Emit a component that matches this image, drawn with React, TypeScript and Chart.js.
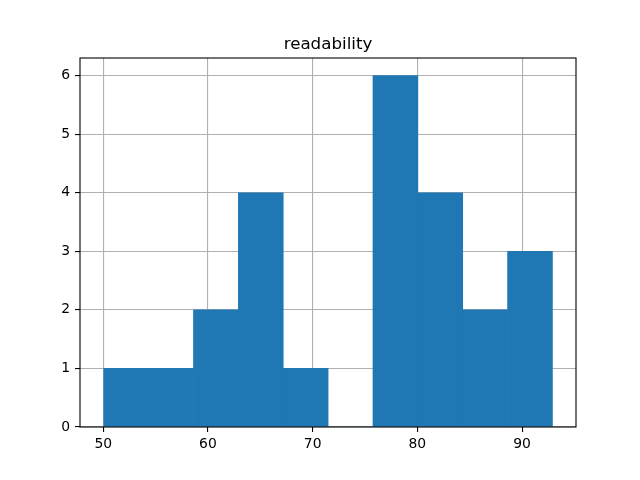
import React, { useEffect, useRef } from "react";
import { Chart, registerables } from "chart.js";

Chart.register(...registerables);

const chartTitle = "readability";
const binEdges = [50.05, 54.335, 58.62, 62.905, 67.19, 71.475, 75.76, 80.045, 84.33, 88.615, 92.9];
const binCounts = [1, 1, 2, 4, 1, 0, 6, 4, 2, 3];
const xTicks = [50, 60, 70, 80, 90];
const yTicks = [0, 1, 2, 3, 4, 5, 6];

const FONT = "'DejaVu Sans', sans-serif";

const boxPlugin = {
  id: "axesBox",
  afterDraw(chart: any) {
    const { ctx, chartArea } = chart;
    ctx.save();
    ctx.strokeStyle = "#000";
    ctx.lineWidth = 1.1;
    ctx.strokeRect(chartArea.left, chartArea.top, chartArea.right - chartArea.left, chartArea.bottom - chartArea.top);
    ctx.fillStyle = "#000";
    ctx.font = `16.7px ${FONT}`;
    ctx.textAlign = "center";
    ctx.textBaseline = "alphabetic";
    ctx.fillText(chartTitle, (chartArea.left + chartArea.right) / 2, chartArea.top - 9.5);
    ctx.restore();
  },
};

export default function App() {
  const ref = useRef<HTMLCanvasElement | null>(null);
  useEffect(() => {
    document.body.style.margin = "0";
    const points = binCounts.map((c, i) => ({ x: (binEdges[i] + binEdges[i + 1]) / 2, y: c }));
    const chart = new Chart(ref.current as HTMLCanvasElement, {
      type: "bar",
      data: {
        datasets: [
          {
            data: points as any,
            backgroundColor: "#1f77b4",
            borderWidth: 0,
            barPercentage: 1,
            categoryPercentage: 1,
          },
        ],
      },
      plugins: [boxPlugin],
      options: {
        responsive: false,
        animation: false,
        layout: { padding: { top: 58, right: 64, left: 0, bottom: 0 } },
        plugins: {
          legend: { display: false },
          tooltip: { enabled: false },
          title: { display: false },
        },
        scales: {
          x: {
            type: "linear",
            min: 47.78,
            max: 95.15,
            z: 1,
            offset: false,
            afterBuildTicks: (s: any) => {
              s.ticks = xTicks.map((v) => ({ value: v }));
            },
            afterFit: (s: any) => {
              s.height = 53;
            },
            ticks: {
              color: "#000",
              font: { family: FONT, size: 13.9 },
              padding: 4,
              maxRotation: 0,
              autoSkip: false,
            },
            grid: { offset: false, color: "#b0b0b0", lineWidth: 1.1, tickColor: "#000", tickLength: 5, drawTicks: true },
            border: { display: false },
          },
          y: {
            type: "linear",
            min: 0,
            max: 6.3,
            z: 1,
            afterBuildTicks: (s: any) => {
              s.ticks = yTicks.map((v) => ({ value: v }));
            },
            afterFit: (s: any) => {
              s.width = 80;
            },
            ticks: {
              color: "#000",
              font: { family: FONT, size: 13.9 },
              padding: 5,
              autoSkip: false,
            },
            grid: { offset: false, color: "#b0b0b0", lineWidth: 1.1, tickColor: "#000", tickLength: 5, drawTicks: true },
            border: { display: false },
          },
        },
      },
    });
    return () => chart.destroy();
  }, []);
  return (
    <div style={{ position: "absolute", left: 0, top: 0, width: 640, height: 480 }}>
      <canvas ref={ref} width={640} height={480} style={{ display: "block" }} />
    </div>
  );
}
